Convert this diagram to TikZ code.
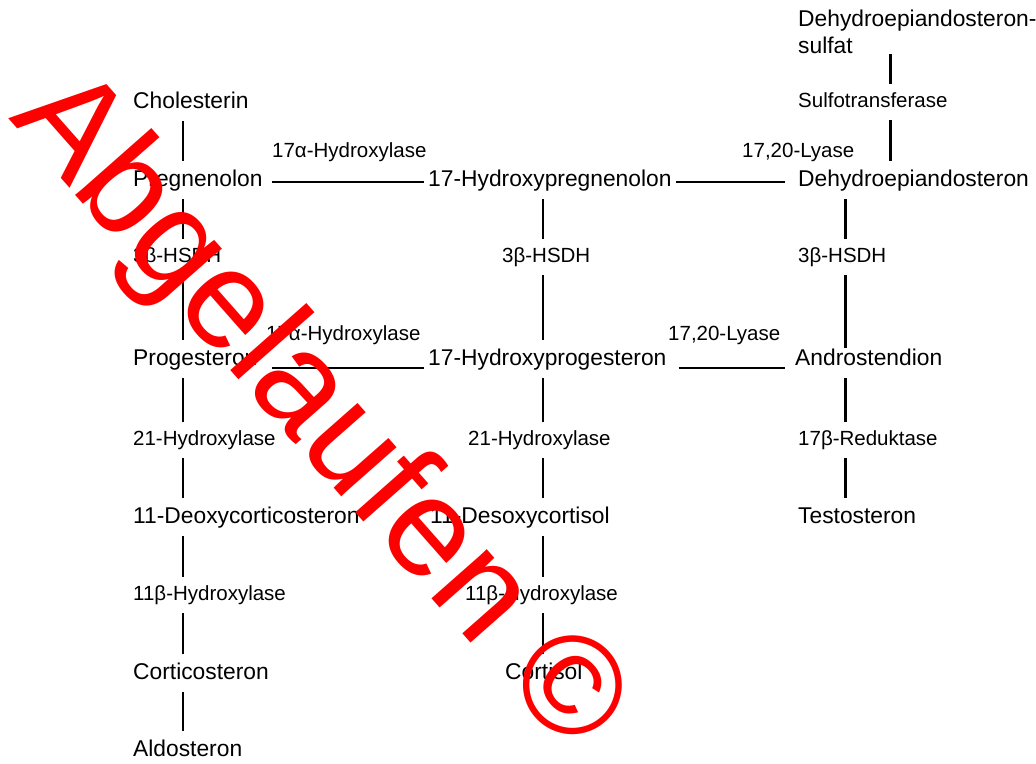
\documentclass[tikz,border=0pt]{standalone}
\usepackage{fontspec}
\setmainfont{Liberation Sans}
\usepackage{xcolor}
\definecolor{stempelrot}{RGB}{255,0,0}

\begin{document}
\begin{tikzpicture}[
x=1pt, y=-1pt,
stoff/.style={anchor=west,
inner sep=0pt,
font=\fontsize{22.8}{27}\selectfont,
text height=17pt,
text depth=5pt},
enzym/.style={anchor=west,
inner sep=0pt,
font=\fontsize{20.5}{24}\selectfont,
text height=15pt,
text depth=4.5pt},
link/.style={line width=1.6pt, shorten <=8pt, shorten >=8pt},
dicklink/.style={line width=3pt, shorten <=8pt, shorten >=8pt},
bond/.style={line width=2.6pt}
]
\useasboundingbox (0,0) rectangle (1036,763);

\coordinate (c1) at (183,0);
\coordinate (c2) at (543,0);
\coordinate (c3) at (845,0);
\coordinate (c4) at (890,0);

% Mineralocorticoide
\node[stoff] (chol) at (133,102) {Cholesterin};
\node[stoff] (preg) at (133,180) {Pregnenolon};
\node[enzym] (hsdA) at (133,257) {3β-HSDH};
\node[stoff] (prog) at (133,359) {Progesteron};
\node[enzym] (hydA) at (133,440) {21-Hydroxylase};
\node[stoff] (doc) at (133,517) {11-Deoxycorticosteron};
\node[enzym] (hydB) at (133,595) {11β-Hydroxylase};
\node[stoff] (corti) at (133,673) {Corticosteron};
\node[stoff] (aldo) at (133,750) {Aldosteron};

% Glucocorticoide
\node[enzym] (hydE) at (272,152) {17α-Hydroxylase};
\node[enzym] (hydF) at (266,335) {17α-Hydroxylase};
\node[stoff] (ohpreg) at (428,180) {17-Hydroxypregnenolon};
\node[enzym] (hsdB) at (502,257) {3β-HSDH};
\node[stoff] (ohprog) at (428,359) {17-Hydroxyprogesteron};
\node[enzym] (hydC) at (468,440) {21-Hydroxylase};
\node[stoff] (desoxy) at (430,517) {11-Desoxycortisol};
\node[enzym] (hydD) at (465,595) {11β-Hydroxylase};
\node[stoff] (cortisol) at (505,673) {Cortisol};

% Androgene
\node[anchor=north west, inner sep=0pt, align=left,
font=\fontsize{22.8}{27}\selectfont] (dheas) at (798,10) {Dehydroepiandosteron-\\sulfat};
\node[enzym] (sulfo) at (798,102) {Sulfotransferase};
\node[enzym] (lyaseA) at (742,152) {17,20-Lyase};
\node[stoff] (dhea) at (798,180) {Dehydroepiandosteron};
\node[enzym] (hsdC) at (798,257) {3β-HSDH};
\node[enzym] (lyaseB) at (668,335) {17,20-Lyase};
\node[stoff] (andro) at (795,359) {Androstendion};
\node[enzym] (red) at (798,440) {17β-Reduktase};
\node[stoff] (testo) at (798,517) {Testosteron};

\draw[link] (chol.south -| c1) -- (preg.north -| c1);
\draw[link] (preg.south -| c1) -- (hsdA.north -| c1);
\draw[link] (hsdA.south -| c1) -- (prog.north -| c1);
\draw[link] (prog.south -| c1) -- (hydA.north -| c1);
\draw[link] (hydA.south -| c1) -- (doc.north -| c1);
\draw[link] (doc.south -| c1) -- (hydB.north -| c1);
\draw[link] (hydB.south -| c1) -- (corti.north -| c1);
\draw[link] (corti.south -| c1) -- (aldo.north -| c1);

\draw[link] (ohpreg.south -| c2) -- (hsdB.north -| c2);
\draw[link] (hsdB.south -| c2) -- (ohprog.north -| c2);
\draw[link] (ohprog.south -| c2) -- (hydC.north -| c2);
\draw[link] (hydC.south -| c2) -- (desoxy.north -| c2);
\draw[link] (desoxy.south -| c2) -- (hydD.north -| c2);
\draw[link] (hydD.south -| c2) -- (cortisol.north -| c2);

\draw[dicklink, shorten <=0pt] (dheas.south -| c4) -- (sulfo.north -| c4);
\draw[dicklink] (sulfo.south -| c4) -- (dhea.north -| c4);
\draw[dicklink] (dhea.south -| c3) -- (hsdC.north -| c3);
\draw[dicklink, shorten >=0pt] (hsdC.south -| c3) -- (andro.north -| c3);
\draw[dicklink] (andro.south -| c3) -- (red.north -| c3);
\draw[dicklink] (red.south -| c3) -- (testo.north -| c3);

\draw[bond, shorten <=9pt, shorten >=4pt] ([yshift=-2pt]preg.east) -- ([yshift=-2pt]ohpreg.west);
\draw[bond, shorten <=14pt, shorten >=4pt] ([yshift=-9pt]prog.east) -- ([yshift=-9pt]ohprog.west);
\draw[bond, shorten <=4pt, shorten >=13pt] ([yshift=-2pt]ohpreg.east) -- ([yshift=-2pt]dhea.west);
\draw[bond, shorten <=12pt, shorten >=10pt] ([yshift=-9pt]ohprog.east) -- ([yshift=-9pt]andro.west);

% Stempel
\node[anchor=base west, rotate=-48.6, inner sep=0pt, text=stempelrot,
font=\fontsize{140}{140}\selectfont] (stempel) at (8,118) {Abgelaufen ©};

\end{tikzpicture}
\end{document}
